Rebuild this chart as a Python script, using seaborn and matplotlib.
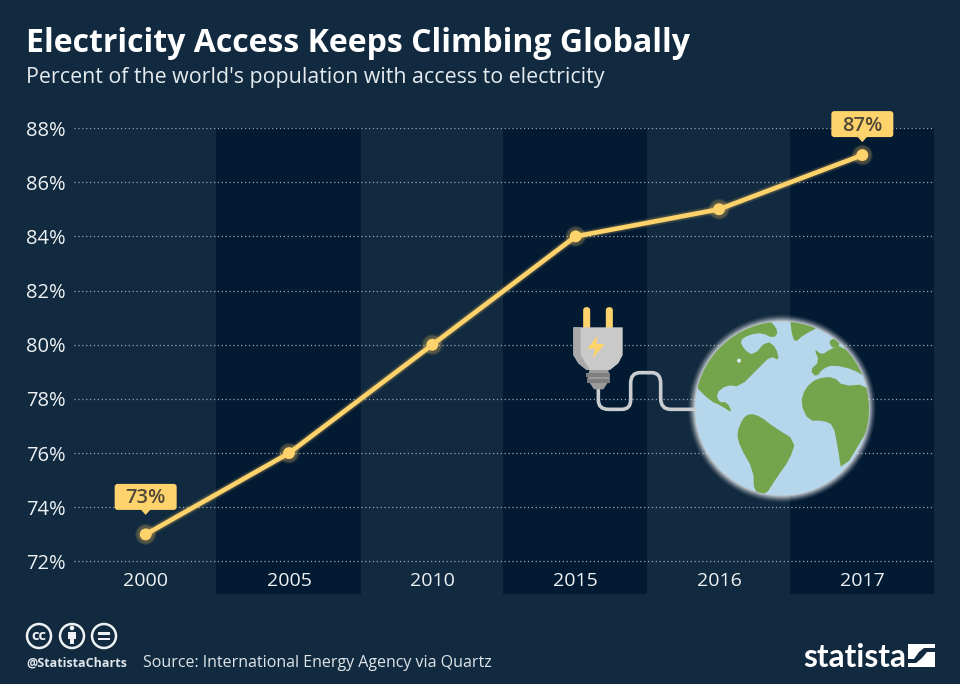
import numpy as np
import pandas as pd
import matplotlib
matplotlib.use("Agg")
import matplotlib.pyplot as plt
import matplotlib.patheffects as pe
from matplotlib.patches import Circle, Polygon, Rectangle, FancyBboxPatch, PathPatch
from matplotlib.path import Path
from matplotlib.transforms import ScaledTranslation, Affine2D
import seaborn as sns

years = ["2000", "2005", "2010", "2015", "2016", "2017"]
access = [73, 76, 80, 84, 85, 87]
y_ticks = [72, 74, 76, 78, 80, 82, 84, 86, 88]
dark_band_years = ["2005", "2015", "2017"]
callouts = {"2000": 73, "2017": 87}

BG = "#122a3f"
DARK = "#031a33"
YEL = "#ffd36c"
FONT = "Open Sans"

sns.set_theme(style="white")
plt.rcParams["font.family"] = [FONT, "DejaVu Sans"]

fig = plt.figure(figsize=(9.6, 6.84), dpi=100, facecolor=BG)
ax = fig.add_axes([74 / 960, 1 - 594 / 684, 860 / 960, 466 / 684], facecolor=BG)

df = pd.DataFrame({"year": years, "access": access})

glow = [pe.Stroke(linewidth=w, foreground=YEL, alpha=0.045) for w in (7, 6.5, 6, 5.5, 5, 4.5, 4, 3.5)] + [pe.Normal()]
sns.lineplot(data=df, x="year", y="access", ax=ax, sort=False, color=YEL, linewidth=3.3,
             marker="o", markersize=8.5, markeredgewidth=0, zorder=5, path_effects=glow)

ax.set_xlim(-0.5, 5.5)
ax.set_ylim(70.8, 88)
for yr in dark_band_years:
    i = years.index(yr)
    ax.axvspan(i - 0.507, i + 0.5, color=DARK, lw=0, zorder=0)
for v in y_ticks:
    ax.axhline(v, color="#97a6b2", lw=0.9, ls=(0, (1, 2.1)), zorder=1)

ax.set_yticks(y_ticks, [f"{v}%" for v in y_ticks])
ax.tick_params(axis="y", length=0, pad=6, labelsize=14.5, labelcolor="#eef2f5")
ax.tick_params(axis="x", length=0, pad=-16, labelsize=14, labelcolor="#eef2f5")
ax.set_xlabel("")
ax.set_ylabel("")
for s in ax.spines.values():
    s.set_visible(False)

# callout boxes, sized in pixels relative to their data point
gaps = {"2000": 24.5, "2017": 18}
for yr, val in callouts.items():
    i = years.index(yr)
    g = gaps[yr]
    tr = Affine2D() + ScaledTranslation(i, val, ax.transData)
    ax.add_patch(FancyBboxPatch((-28, g + 3), 56, 20, boxstyle="round,pad=3,rounding_size=3", fc=YEL, ec="none",
                                transform=tr, zorder=7, clip_on=False))
    ax.add_patch(Polygon([(-5, g + 0.5), (5, g + 0.5), (0, g - 5)], fc=YEL, ec="none", transform=tr, zorder=7, clip_on=False))
    ax.annotate(f"{val}%", (i, val), xytext=(0, (g + 11.5) * 0.72), textcoords="offset points",
                ha="center", va="center", fontsize=14.5, fontweight="semibold", color="#4f4838", zorder=8)

# ---- decoration layer in pixel space ----
ov = fig.add_axes([0, 0, 1, 1], facecolor="none")
ov.set_xlim(0, 960)
ov.set_ylim(684, 0)
ov.axis("off")


def Z(pts):
    return [(540 + x / 3, 290 + y / 3) for x, y in pts]


def smooth(pts, n=2):
    pts = np.array(pts, float)
    for _ in range(n):
        nxt = np.roll(pts, -1, axis=0)
        pts = np.column_stack([0.75 * pts + 0.25 * nxt, 0.25 * pts + 0.75 * nxt]).reshape(-1, 2)
    return pts


cx, cy, r = 782, 408.5, 87
for k, a in zip(range(7, 0, -1), (0.05, 0.07, 0.1, 0.14, 0.18, 0.24, 0.3)):
    ov.add_patch(Circle((cx, cy), r + k, fc="#ffffff", ec="none", alpha=a, zorder=2))
ocean = Circle((cx, cy), r, fc="#b6d6ec", ec="none", zorder=3)
ov.add_patch(ocean)
GREEN = "#74a44b"
lands = [
    [(462, 285), (495, 215), (535, 160), (590, 120), (640, 100), (690, 90), (716, 125), (700, 145), (665, 128),
     (625, 135), (600, 152), (612, 178), (640, 197), (680, 152), (708, 172), (718, 212), (692, 198), (655, 235),
     (600, 290), (560, 285), (528, 310), (538, 338), (560, 335), (578, 370), (545, 348), (510, 332)],
    [(750, 85), (840, 110), (790, 135), (765, 158), (755, 130)],
    [(822, 175), (845, 195), (870, 178), (905, 165), (970, 225), (990, 270), (940, 238), (880, 225), (850, 235),
     (828, 262), (810, 240), (838, 215)],
    [(865, 155), (885, 143), (902, 165), (880, 177)],
    [(782, 340), (795, 295), (830, 265), (880, 260), (910, 288), (975, 283), (1010, 330), (995, 400), (905, 550),
     (893, 470), (880, 405), (850, 392), (805, 392)],
    [(590, 430), (608, 385), (630, 370), (662, 380), (700, 410), (768, 452), (748, 510), (712, 560), (675, 618),
     (642, 605), (640, 540), (600, 470)],
]
for pts in lands:
    p = Polygon(smooth(Z(pts), 1), closed=True, fc=GREEN, ec="none", zorder=4, joinstyle="round")
    ov.add_patch(p)
    p.set_clip_path(ocean)
ov.add_patch(Circle(Z([(597, 212)])[0], 2, fc="#dbeaf5", ec="none", zorder=5))

# cord
verts = Z([(175, 295), (175, 330), (175, 358), (205, 358), (245, 358), (272, 358), (272, 330), (272, 280), (272, 248),
           (300, 248), (335, 248), (362, 248), (362, 280), (362, 325), (362, 358), (392, 358), (465, 358)])
codes = [Path.MOVETO, Path.LINETO, Path.CURVE3, Path.CURVE3, Path.LINETO, Path.CURVE3, Path.CURVE3, Path.LINETO,
         Path.CURVE3, Path.CURVE3, Path.LINETO, Path.CURVE3, Path.CURVE3, Path.LINETO, Path.CURVE3, Path.CURVE3,
         Path.LINETO]
ov.add_patch(PathPatch(Path(verts, codes), fc="none", ec="#c9cdd0", lw=2.6, zorder=3, capstyle="round"))

# plug
for x0 in (130, 198):
    ov.add_patch(FancyBboxPatch(Z([(x0 + 4, 56)])[0], 4, 20, boxstyle="round,pad=1.5,rounding_size=3", fc=YEL, ec="none", zorder=5))
body = [(100, 112), (248, 112), (248, 195), (235, 220), (210, 240), (140, 240), (115, 220), (100, 195)]
ov.add_patch(Polygon(Z(body), fc="#c9c9c9", ec="none", zorder=6, joinstyle="round"))
ov.add_patch(Polygon(Z([(100, 112), (122, 112), (122, 195), (150, 240), (140, 240), (115, 220), (100, 195)]), fc="#a9a9a9", ec="none", zorder=7))
ov.add_patch(Polygon(Z([(148, 240), (205, 240), (210, 268), (190, 298), (162, 298), (142, 268)]), fc="#9b9b9b", ec="none", zorder=5))
ov.add_patch(Rectangle(Z([(138, 250)])[0], 24, 4, fc="#7f7f7f", ec="none", zorder=6))
ov.add_patch(Rectangle(Z([(142, 268)])[0], 23, 3.5, fc="#7f7f7f", ec="none", zorder=6))
ov.add_patch(Polygon(Z([(172, 138), (142, 176), (165, 176), (158, 206), (194, 162), (170, 162)]), fc=YEL, ec="none", zorder=8))

# titles and footer
ov.text(26, 44, "Electricity Access Keeps Climbing Globally", fontsize=23, fontweight="bold", color="#ffffff", va="center", ha="left")
ov.text(26, 78, "Percent of the world's population with access to electricity", fontsize=15.4, color="#e6ebef", va="center", ha="left")
ov.text(143, 663, "Source: International Energy Agency via Quartz", fontsize=11.5, color="#dfe5ea", va="center", ha="left")
ov.text(26, 663, "@StatistaCharts", fontsize=9, fontweight="bold", color="#dfe5ea", va="center", ha="left")

for c in (39, 72, 104):
    ov.add_patch(Circle((c, 636), 12, fc="none", ec="#eef2f5", lw=1.8))
ov.text(39, 635.5, "cc", fontsize=10.5, fontweight="bold", color="#eef2f5", ha="center", va="center")
ov.add_patch(Circle((72, 628), 2.3, fc="#eef2f5", ec="none"))
ov.add_patch(Rectangle((68, 631.5), 8, 7, fc="#eef2f5", ec="none"))
ov.add_patch(Rectangle((69.7, 638), 4.6, 6, fc="#eef2f5", ec="none"))
ov.add_patch(Rectangle((98, 632), 12, 2.6, fc="#eef2f5", ec="none"))
ov.add_patch(Rectangle((98, 637.5), 12, 2.6, fc="#eef2f5", ec="none"))

ov.text(803, 667, "statista", fontsize=22.7, fontweight="bold", color="#ffffff", va="baseline", ha="left",
        family=["Lato", "Open Sans"])
ov.add_patch(Rectangle((908, 644), 27, 23, fc="#ffffff", ec="none"))
wave = [(908, 659), (914, 659), (919, 652), (924, 648), (935, 648), (935, 652), (927, 652), (922, 658), (916, 663), (908, 663)]
ov.add_patch(Polygon(wave, fc=BG, ec="none"))

fig.savefig("out.png", dpi=100, facecolor=BG)
